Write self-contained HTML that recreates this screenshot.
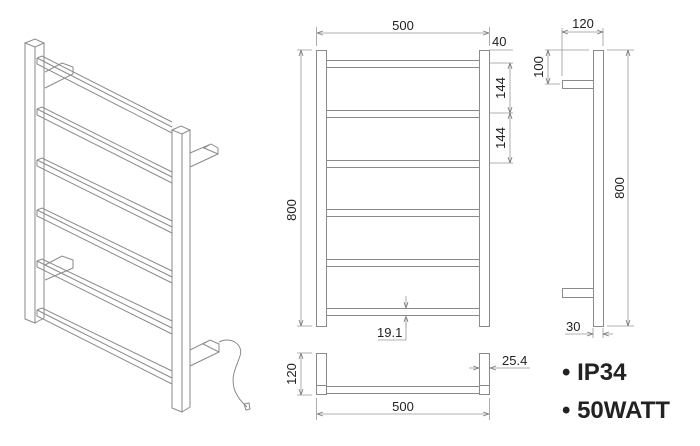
<!DOCTYPE html>
<html><head><meta charset="utf-8"><style>
html,body{margin:0;padding:0;background:#fff;}
svg{display:block;}
text{font-family:"Liberation Sans",Arial,sans-serif;fill:#222;}
</style></head><body>
<svg width="700" height="446" viewBox="0 0 700 446" xmlns="http://www.w3.org/2000/svg">
<defs>
<marker id="a" markerWidth="6" markerHeight="6" refX="6" refY="3" orient="auto-start-reverse" markerUnits="userSpaceOnUse"><path d="M0,1 L6,3 L0,5" fill="none" stroke="#777" stroke-width="0.8"/></marker>
</defs>
<g fill="none" stroke="#8a8a8a" stroke-width="1">
<path d="M45,72 L62,63 L73,67 L73,74 L45,88"/>
<path d="M45,265 L62,256 L73,260 L73,268 L45,280"/>
<path d="M25,43 L35,39 L44,43 L35,47 Z"/>
<path d="M25,43 L25,319 L35,323 L35,47"/>
<path d="M44,43 L44,318 L35,323"/>
<g>
<path d="M37,58 L42,56 L172,122 M37,58 L37,64 L172,133 M37,58 L172,127"/>
<path d="M37,109 L42,107 L172,172 M37,109 L37,115 L172,183 M37,109 L172,177"/>
<path d="M37,160 L42,158 L172,221 M37,160 L37,166 L172,233 M37,160 L172,227"/>
<path d="M37,210 L42,208 L172,271 M37,210 L37,216 L172,283 M37,210 L172,277"/>
<path d="M37,261 L42,259 L172,321 M37,261 L37,267 L172,334 M37,261 L172,328"/>
<path d="M37,310 L42,308 L172,371 M37,310 L37,316 L172,384 M37,310 L172,378"/>
</g>
<path d="M172,130 L181,126 L190,130 L182,134 Z"/>
<path d="M172,130 L172,408 L182,412 L182,134"/>
<path d="M190,130 L190,407 L182,412"/>
<path d="M190,153 L211,144 L218,148 L218,154 L190,167 M211,144 L204,148 L218,154"/>
<path d="M190,350 L210,340 L219,344 L219,352 L190,366 M210,340 L203,344 L219,352"/>
<path d="M219,342 C230,336 244,344 240,356 C236,368 231,375 234,388 C237,398 244,404 247,407"/>
<path d="M244,404 L249,403 L250,409 L246,410 Z"/>

<rect x="316.5" y="50.5" width="10" height="276"/>
<rect x="479.5" y="50.5" width="10" height="276"/>
<rect x="326.5" y="60.5" width="153" height="7"/>
<rect x="326.5" y="110.5" width="153" height="7"/>
<rect x="326.5" y="160.5" width="153" height="7"/>
<rect x="326.5" y="209.5" width="153" height="7"/>
<rect x="326.5" y="259.5" width="153" height="7"/>
<rect x="326.5" y="308.5" width="153" height="7"/>
<rect x="593.5" y="50.5" width="10" height="276"/>
<rect x="562.5" y="80.5" width="31" height="8"/>
<rect x="562.5" y="288.5" width="31" height="9"/>
<rect x="316.5" y="353.5" width="10" height="32"/>
<rect x="479.5" y="353.5" width="10" height="32"/>
<rect x="316.5" y="385.5" width="10" height="9"/>
<rect x="479.5" y="385.5" width="10" height="9"/>
<rect x="326.5" y="386.5" width="153" height="7"/>
</g>
<g fill="none" stroke="#999" stroke-width="0.8">
<path d="M316.5,27 V46 M489.5,27 V46"/>
<path d="M317,33 H489" marker-start="url(#a)" marker-end="url(#a)"/>
<path d="M489,50 H513 M489,63 H513 M489,113 H513 M489,163 H513"/>
<path d="M510,63 V113" marker-start="url(#a)" marker-end="url(#a)"/>
<path d="M510,113 V163" marker-start="url(#a)" marker-end="url(#a)"/>
<path d="M297,50 H312 M297,326 H312"/>
<path d="M301,50 V326" marker-start="url(#a)" marker-end="url(#a)"/>
<path d="M406,296 V308" marker-end="url(#a)"/>
<path d="M406,328 V316" marker-end="url(#a)"/>
<path d="M406,316 V340 H378"/>
<path d="M562,28 V76 M603,28 V46"/>
<path d="M562,32 H603" marker-start="url(#a)" marker-end="url(#a)"/>
<path d="M545,50 H589 M545,84 H560"/>
<path d="M548,50 V84" marker-start="url(#a)" marker-end="url(#a)"/>
<path d="M607,50 H634 M607,326 H634"/>
<path d="M628,50 V326" marker-start="url(#a)" marker-end="url(#a)"/>
<path d="M593,328 V338 M603,328 V338"/>
<path d="M565,334 H593" marker-end="url(#a)"/>
<path d="M613,334 H603" marker-end="url(#a)"/>
<path d="M297,353 H312 M297,395 H312"/>
<path d="M301,353 V395" marker-start="url(#a)" marker-end="url(#a)"/>
<path d="M316.5,398 V420 M489.5,398 V420"/>
<path d="M317,414 H489" marker-start="url(#a)" marker-end="url(#a)"/>
<path d="M469,368 H479" marker-end="url(#a)"/>
<path d="M530,368 H490" marker-end="url(#a)"/>
</g>
<g font-size="13">
<text x="403" y="30" text-anchor="middle">500</text>
<text x="492" y="46">40</text>
<text transform="translate(505,88) rotate(-90)" text-anchor="middle">144</text>
<text transform="translate(505,138) rotate(-90)" text-anchor="middle">144</text>
<text transform="translate(296,210) rotate(-90)" text-anchor="middle">800</text>
<text x="377" y="337">19.1</text>
<text x="583" y="28" text-anchor="middle">120</text>
<text transform="translate(543,67) rotate(-90)" text-anchor="middle">100</text>
<text transform="translate(624,188) rotate(-90)" text-anchor="middle">800</text>
<text x="566" y="331">30</text>
<text transform="translate(296,374) rotate(-90)" text-anchor="middle">120</text>
<text x="403" y="411" text-anchor="middle">500</text>
<text x="502" y="365">25.4</text>
</g>
<g font-size="24" font-weight="bold">
<text x="562" y="380" fill="#111">• IP34</text>
<text x="562" y="418" fill="#111">• 50WATT</text>
</g>
</svg>
</body></html>
